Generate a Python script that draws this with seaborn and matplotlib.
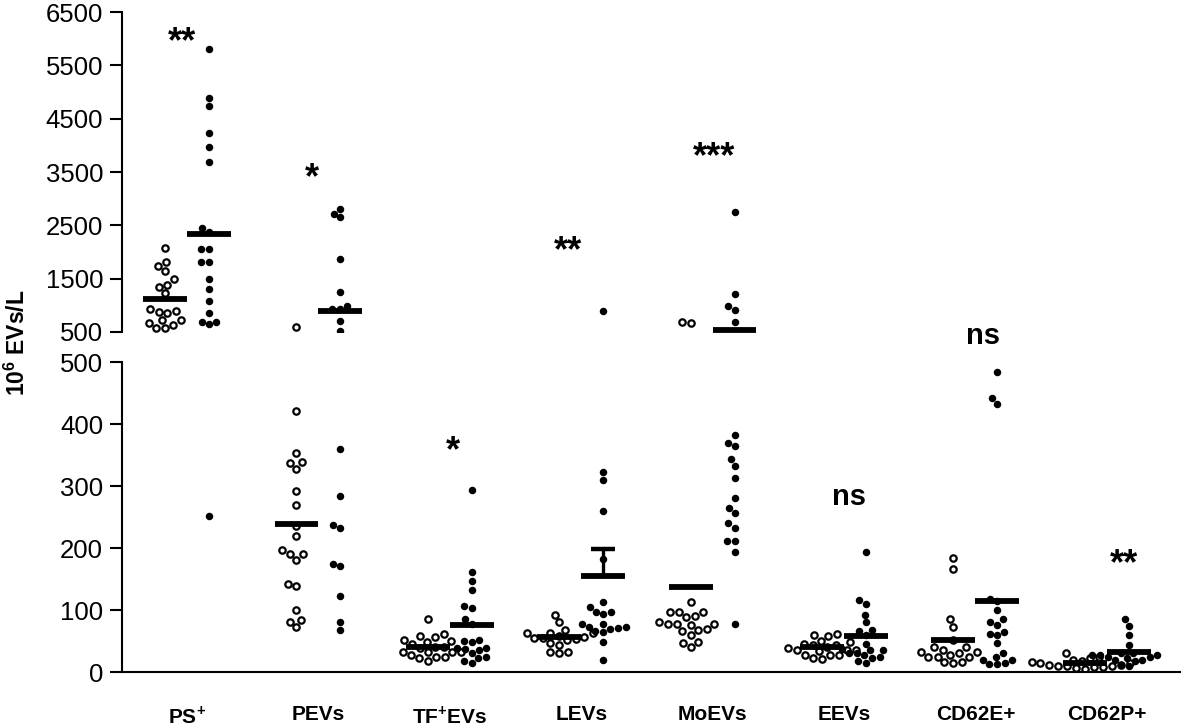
import warnings
import numpy as np
import pandas as pd
import matplotlib
matplotlib.use('Agg')
import matplotlib.pyplot as plt
import seaborn as sns

warnings.filterwarnings('ignore')

# categories on the x axis and the significance marks above them
categories = ['PS$^{\\mathbf{+}}$', 'PEVs', 'TF$^{\\mathbf{+}}$EVs', 'LEVs',
              'MoEVs', 'EEVs', 'CD62E+', 'CD62P+']
sig_labels = ['**', '*', '*', '**', '***', 'ns', 'ns', '**']

# 10^6 EVs/L, controls (open circles) and patients (filled dots)
ps_ctrl = [2069, 1807, 1744, 1644, 1488, 1381, 1338, 1225, 925, 880, 850, 900,
           725, 721, 675, 631, 569, 581]
ps_pat = [5806, 4894, 4744, 4225, 3975, 3694, 2444, 2375, 2050, 2050, 1807, 1820,
          1488, 1300, 1081, 850, 694, 644, 694, 252]
pev_ctrl = [594, 421, 354, 337, 338, 327, 292, 269, 236, 219, 196, 190, 190, 180,
            139, 142, 100, 84, 81, 72]
pev_pat = [2800, 2650, 2719, 1869, 1250, 988, 925, 925, 713, 525, 360, 284, 237,
           233, 171, 174, 123, 80, 67]
tf_ctrl = [85, 61, 58, 56, 52, 50, 49, 45, 41, 41, 38, 33, 33, 33, 32, 27, 25, 24,
           22, 17]
tf_pat = [294, 162, 146, 132, 107, 103, 85, 78, 52, 49, 50, 38, 36, 38, 37, 30, 24,
          22, 18, 15]
lev_ctrl = [92, 80, 68, 63, 63, 63, 58, 57, 55, 55, 54, 52, 47, 44, 33, 32, 30]
lev_pat = [894, 322, 309, 259, 183, 113, 105, 97, 97, 94, 78, 77, 73, 72, 71, 70,
           66, 64, 49, 19]
mo_ctrl = [690, 670, 113, 97, 96, 96, 90, 88, 80, 78, 78, 77, 76, 70, 68, 66, 60,
           48, 47, 40]
mo_pat = [2744, 1206, 988, 913, 681, 382, 370, 364, 343, 332, 313, 280, 265, 257,
          240, 233, 211, 211, 193, 77]
eev_ctrl = [62, 60, 58, 50, 48, 45, 44, 44, 40, 38, 36, 35, 35, 34, 28, 27, 27, 22, 21]
eev_pat = [194, 116, 110, 92, 80, 67, 66, 60, 45, 37, 36, 35, 31, 30, 27, 25, 23,
           18, 15]
e62_ctrl = [184, 166, 85, 72, 51, 40, 40, 36, 32, 32, 31, 28, 25, 25, 25, 16, 16, 15]
e62_pat = [484, 442, 433, 117, 115, 100, 85, 81, 76, 65, 62, 60, 46, 30, 25, 20, 19,
           15, 13, 13]
p62_ctrl = [30, 25, 22, 20, 18, 16, 15, 14, 12, 12, 10, 10, 9, 8, 8, 6, 5]
p62_pat = [85, 74, 60, 44, 30, 30, 28, 28, 28, 25, 25, 22, 20, 20, 18, 12, 10]

ctrl_sets = [ps_ctrl, pev_ctrl, tf_ctrl, lev_ctrl, mo_ctrl, eev_ctrl, e62_ctrl, p62_ctrl]
pat_sets = [ps_pat, pev_pat, tf_pat, lev_pat, mo_pat, eev_pat, e62_pat, p62_pat]

# layout
SHIFT = 0.167      # half distance between the two groups of a category
BREAK = 500        # value where the y axis is broken
sig_x = [-0.04, 0.95, 2.02, 2.90, 4.01, 5.04, 6.06, 7.13]
sig_y = [5930, 3380, 355, 2010, 3775, 282, 542, 173]

rows = []
for i, (c, p) in enumerate(zip(ctrl_sets, pat_sets)):
    rows += [(i - SHIFT, v, 'ctrl') for v in c]
    rows += [(i + SHIFT, v, 'pat') for v in p]
df = pd.DataFrame(rows, columns=['pos', 'value', 'group'])

sns.set_style('ticks')
plt.rcParams['font.family'] = ['Liberation Sans', 'DejaVu Sans']
plt.rcParams['mathtext.fontset'] = 'custom'
plt.rcParams['mathtext.rm'] = 'Liberation Sans'
plt.rcParams['mathtext.bf'] = 'Liberation Sans:bold'
for key in ['text.color', 'axes.labelcolor', 'xtick.color', 'ytick.color',
            'axes.edgecolor']:
    plt.rcParams[key] = 'black'

W, H = 1181, 726
fig = plt.figure(figsize=(W / 100, H / 100), dpi=100, facecolor='white')
ax_top = fig.add_axes([122 / W, 1 - 332 / H, 1 - 122 / W, 320 / H])
ax_bot = fig.add_axes([122 / W, 1 - 672 / H, 1 - 122 / W, 310 / H])

for ax, part in [(ax_top, df[df['value'] >= BREAK]), (ax_bot, df[df['value'] < BREAK])]:
    sns.swarmplot(data=part[part['group'] == 'ctrl'], x='pos', y='value', orient='x',
                  native_scale=True, ax=ax, color='white', edgecolor='black',
                  linewidth=1.6, size=4.6, zorder=2)
    sns.swarmplot(data=part[part['group'] == 'pat'], x='pos', y='value', orient='x',
                  native_scale=True, ax=ax, color='black', linewidth=0, size=5.4,
                  zorder=2)

# mean bars
for i, (c, p) in enumerate(zip(ctrl_sets, pat_sets)):
    for vals, x in [(c, i - SHIFT), (p, i + SHIFT)]:
        m = np.mean(vals)
        ax = ax_top if m >= BREAK else ax_bot
        ax.hlines(m, x - SHIFT, x + SHIFT, color='black', lw=4.2, zorder=3, clip_on=False)

# SEM bar shown for LEVs patients only
m = np.mean(lev_pat)
sem = np.std(lev_pat, ddof=1) / np.sqrt(len(lev_pat))
ax_bot.vlines(3 + SHIFT, m, m + sem, color='black', lw=2.4, zorder=3)
ax_bot.hlines(m + sem, 3 + SHIFT - 0.09, 3 + SHIFT + 0.09, color='black', lw=3.2, zorder=3)

# significance marks
for lab, x, y in zip(sig_labels, sig_x, sig_y):
    ax = ax_top if y > 1000 else ax_bot
    ax.text(x, y, lab, ha='center', va='center', fontweight='bold',
            fontsize=21 if lab == 'ns' else 26)

for ax in (ax_top, ax_bot):
    ax.set_xlim(-0.495, 7.565)
    ax.set_xlabel('')
    ax.set_ylabel('')
    ax.spines[['top', 'right']].set_visible(False)
    ax.spines['left'].set_linewidth(1.5)
    ax.spines['bottom'].set_linewidth(1.5)
    ax.tick_params(axis='y', length=8.6, width=1.5, pad=5, labelsize=18.5)
    ax.set_facecolor('none')

ax_top.spines['bottom'].set_visible(False)
ax_top.set_xticks([])
ax_top.set_ylim(BREAK, 6500)
ax_top.set_yticks(range(500, 6501, 1000))

ax_bot.set_ylim(0, BREAK)
ax_bot.set_yticks(range(0, 501, 100))
ax_bot.set_xticks(range(len(categories)))
ax_bot.set_xticklabels(categories, fontweight='bold', fontsize=15)
ax_bot.tick_params(axis='x', length=0, pad=24)

fig.text(17 / W, 1 - 343 / H, '10$^{\\mathbf{6}}$ EVs/L', rotation=90, ha='center',
         va='center', fontweight='bold', fontsize=16.5)

fig.savefig('out.png', dpi=100, facecolor='white')
